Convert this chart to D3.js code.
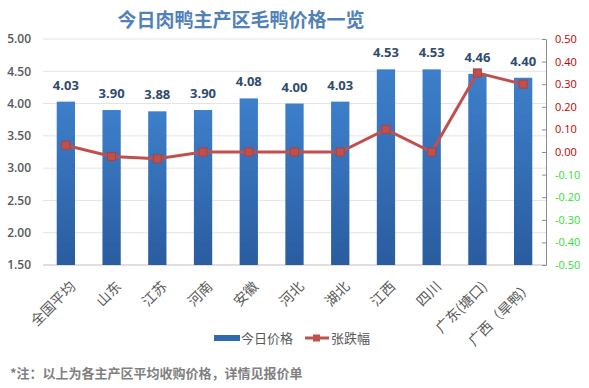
<!DOCTYPE html>
<html>
<head>
<meta charset="utf-8">
<script src="https://cdn.jsdelivr.net/npm/d3@7"></script>
<style>
  body { margin: 0; background: #fff; }
  svg { font-family: "Noto Sans CJK SC", "Noto Sans", sans-serif; }
</style>
</head>
<body>
<div id="chart"></div>
<script>
// data
const regions = ['全国平均', '山东', '江苏', '河南', '安徽', '河北', '湖北', '江西', '四川', '广东(塘口)', '广西（旱鸭）'];
const prices = [4.03, 3.90, 3.88, 3.90, 4.08, 4.00, 4.03, 4.53, 4.53, 4.46, 4.40];
const changes = [0.03, -0.02, -0.03, 0.00, 0.00, 0.00, 0.00, 0.10, 0.00, 0.35, 0.30];
const priceTicks = [1.5, 2.0, 2.5, 3.0, 3.5, 4.0, 4.5, 5.0];
const changeTicks = [-0.5, -0.4, -0.3, -0.2, -0.1, 0, 0.1, 0.2, 0.3, 0.4, 0.5];

const width = 589, height = 388;
const plotLeft = 43, plotRight = 546, plotTop = 39, plotBottom = 265;
const numFont = '"Open Sans", "Noto Sans", sans-serif';
// plain hyphen for negatives, like the original
const fmt2 = d => d3.format('.2f')(d).replace('\u2212', '-');

const svg = d3.select('#chart')
  .append('svg')
  .attr('width', width)
  .attr('height', height);

const defs = svg.append('defs');
const grad = defs.append('linearGradient')
  .attr('id', 'barGrad')
  .attr('x1', 0).attr('y1', 0).attr('x2', 0).attr('y2', 1);
grad.append('stop').attr('offset', '0%').attr('stop-color', '#3d7fcb');
grad.append('stop').attr('offset', '100%').attr('stop-color', '#2a5c9f');

const x = d3.scaleBand()
  .domain(regions)
  .range([plotLeft, plotRight])
  .paddingInner(0.6)
  .paddingOuter(0.3);

const y = d3.scaleLinear()
  .domain([1.5, 5])
  .range([plotBottom, plotTop]);

const y2 = d3.scaleLinear()
  .domain([-0.5, 0.5])
  .range([plotBottom, plotTop]);

// title
svg.append('text')
  .attr('x', 241)
  .attr('y', 27)
  .attr('text-anchor', 'middle')
  .style('font-size', '19px')
  .style('font-weight', 'bold')
  .style('fill', '#5181b9')
  .text('今日肉鸭主产区毛鸭价格一览');

// gridlines
svg.append('g')
  .selectAll('line')
  .data(priceTicks)
  .enter()
  .append('line')
  .attr('x1', plotLeft)
  .attr('x2', plotRight)
  .attr('y1', d => y(d))
  .attr('y2', d => y(d))
  .attr('stroke', d => d === 1.5 ? '#bfbfbf' : '#e3e3e3')
  .attr('stroke-width', 1);

// left axis
const leftAxis = svg.append('g')
  .attr('transform', 'translate(' + (plotLeft - 9) + ',0)')
  .call(d3.axisLeft(y).tickValues(priceTicks).tickFormat(fmt2).tickSize(0));
leftAxis.select('.domain').remove();
leftAxis.selectAll('text')
  .style('font-size', '12px')
  .style('font-weight', '600')
  .style('font-family', numFont)
  .style('fill', '#595959');

// right axis
const rightAxis = svg.append('g')
  .attr('transform', 'translate(' + plotRight + ',0)')
  .call(d3.axisRight(y2).tickValues(changeTicks).tickFormat(fmt2).tickSizeInner(-4).tickSizeOuter(0).tickPadding(9));
rightAxis.select('.domain').attr('stroke', '#8c8c8c');
rightAxis.selectAll('line').attr('stroke', '#8c8c8c');
rightAxis.selectAll('text')
  .style('font-size', '11px')
  .style('font-family', numFont)
  .style('fill', d => d < 0 ? '#33dd33' : '#c00000');

// bars
svg.append('g')
  .selectAll('rect')
  .data(prices)
  .enter()
  .append('rect')
  .attr('x', (d, i) => x(regions[i]))
  .attr('y', d => y(d))
  .attr('width', x.bandwidth())
  .attr('height', d => plotBottom - y(d))
  .attr('fill', 'url(#barGrad)');

// bar value labels
svg.append('g')
  .selectAll('text')
  .data(prices)
  .enter()
  .append('text')
  .attr('x', (d, i) => x(regions[i]) + x.bandwidth() / 2)
  .attr('y', d => y(d) - 12)
  .attr('text-anchor', 'middle')
  .style('font-size', '13px')
  .style('font-weight', 'bold')
  .style('font-family', numFont)
  .style('fill', '#2f4b6e')
  .text(fmt2);

// change line
const line = d3.line()
  .x((d, i) => x(regions[i]) + x.bandwidth() / 2)
  .y(d => y2(d));

svg.append('path')
  .datum(changes)
  .attr('d', line)
  .attr('fill', 'none')
  .attr('stroke', '#c0504d')
  .attr('stroke-width', 3);

svg.append('g')
  .selectAll('rect')
  .data(changes)
  .enter()
  .append('rect')
  .attr('x', (d, i) => x(regions[i]) + x.bandwidth() / 2 - 4)
  .attr('y', d => y2(d) - 4)
  .attr('width', 8)
  .attr('height', 8)
  .attr('fill', '#c0504d')
  .attr('stroke', '#b0403d');

// category labels
svg.append('g')
  .selectAll('text')
  .data(regions)
  .enter()
  .append('text')
  .attr('transform', d => 'translate(' + (x(d) + x.bandwidth() / 2 + 7) + ',' + 284 + ')rotate(-45)')
  .attr('text-anchor', 'end')
  .attr('dy', '0.35em')
  .style('font-size', '14px')
  .style('fill', '#595959')
  .text(d => d);

// legend
const legend = svg.append('g').attr('transform', 'translate(214,338)');
legend.append('rect')
  .attr('x', 0).attr('y', -3)
  .attr('width', 26).attr('height', 6)
  .attr('fill', '#3069b0');
legend.append('text')
  .attr('x', 27).attr('y', 0).attr('dy', '0.35em')
  .style('font-size', '13px').style('fill', '#595959')
  .text('今日价格');
legend.append('line')
  .attr('x1', 91).attr('x2', 115).attr('y1', 0).attr('y2', 0)
  .attr('stroke', '#c0504d').attr('stroke-width', 3);
legend.append('rect')
  .attr('x', 99).attr('y', -3.5).attr('width', 7).attr('height', 7)
  .attr('fill', '#c0504d');
legend.append('text')
  .attr('x', 117).attr('y', 0).attr('dy', '0.35em')
  .style('font-size', '13px').style('fill', '#595959')
  .text('张跌幅');

// footnote
svg.append('text')
  .attr('x', 10)
  .attr('y', 378)
  .style('font-size', '13px')
  .style('font-weight', 'bold')
  .style('fill', '#7f7f7f')
  .text('*注：以上为各主产区平均收购价格，详情见报价单');
</script>
</body>
</html>
